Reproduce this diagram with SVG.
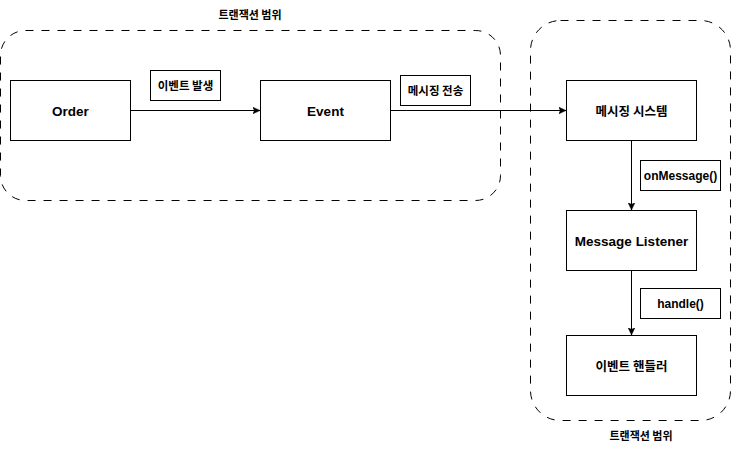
<svg xmlns="http://www.w3.org/2000/svg" width="731" height="451" viewBox="0 0 731 451">
<style>
.box{fill:#fff;stroke:#000;stroke-width:1}
.scope{fill:none;stroke:#000;stroke-width:1;stroke-dasharray:8 8}
.t{font-family:"Liberation Sans","Noto Sans CJK KR",sans-serif;font-weight:bold;fill:#000;text-anchor:middle}
.k{font-family:"Noto Sans CJK KR","Liberation Sans",sans-serif;font-weight:bold;fill:#000;text-anchor:middle}
.edge{fill:none;stroke:#000;stroke-width:1}
</style>
<defs>
<marker id="arr" markerUnits="userSpaceOnUse" markerWidth="8" markerHeight="8" viewBox="0 0 8 8" refX="7.5" refY="4" orient="auto">
<path d="M0,0.5 L7.5,4 L0,7.5 L2,4 z" fill="#000" stroke="#000" stroke-width="0.5"/>
</marker>
</defs>
<rect width="731" height="451" fill="#fff"/>
<g id="scope-left">
<rect class="scope" x="0.5" y="30.5" width="500" height="170" rx="25" ry="25"/>
<text class="k" x="250" y="19" font-size="11">트랜잭션 범위</text>
</g>
<g id="scope-right">
<rect class="scope" x="530.5" y="20.5" width="200" height="400" rx="30" ry="30"/>
<text class="k" x="641" y="440" font-size="11">트랜잭션 범위</text>
</g>
<g id="connectors">
<line class="edge" x1="130.5" y1="110.5" x2="260" y2="110.5" marker-end="url(#arr)"/>
<line class="edge" x1="390.5" y1="110.5" x2="566" y2="110.5" marker-end="url(#arr)"/>
<line class="edge" x1="631.5" y1="140.5" x2="631.5" y2="210" marker-end="url(#arr)"/>
<line class="edge" x1="631.5" y1="270.5" x2="631.5" y2="335" marker-end="url(#arr)"/>
</g>
<g id="label-publish">
<rect class="box" x="150.5" y="70.5" width="70" height="30"/>
<text class="k" x="185.5" y="89.5" font-size="11.5">이벤트 발생</text>
</g>
<g id="label-send">
<rect class="box" x="400.5" y="75.5" width="70" height="30"/>
<text class="k" x="435.5" y="94.5" font-size="11.5">메시징 전송</text>
</g>
<g id="label-onmessage">
<rect class="box" x="640.5" y="160.5" width="80" height="30"/>
<text class="t" x="680.5" y="180" font-size="12">onMessage()</text>
</g>
<g id="label-handle">
<rect class="box" x="640.5" y="288.5" width="80" height="30"/>
<text class="t" x="680.5" y="308" font-size="12">handle()</text>
</g>
<g id="node-order">
<rect class="box" x="10.5" y="80.5" width="120" height="60"/>
<text class="t" x="70.5" y="115.5" font-size="13.5">Order</text>
</g>
<g id="node-event">
<rect class="box" x="260.5" y="80.5" width="130" height="60"/>
<text class="t" x="325.5" y="115.5" font-size="13.5">Event</text>
</g>
<g id="node-messaging">
<rect class="box" x="566.5" y="80.5" width="130" height="60"/>
<text class="k" x="631.5" y="115.5" font-size="12.5">메시징 시스템</text>
</g>
<g id="node-listener">
<rect class="box" x="566.5" y="210.5" width="130" height="60"/>
<text class="t" x="631.5" y="245.5" font-size="13.5">Message Listener</text>
</g>
<g id="node-handler">
<rect class="box" x="566.5" y="335.5" width="130" height="60"/>
<text class="k" x="631.5" y="370.5" font-size="12.5">이벤트 핸들러</text>
</g>
</svg>
